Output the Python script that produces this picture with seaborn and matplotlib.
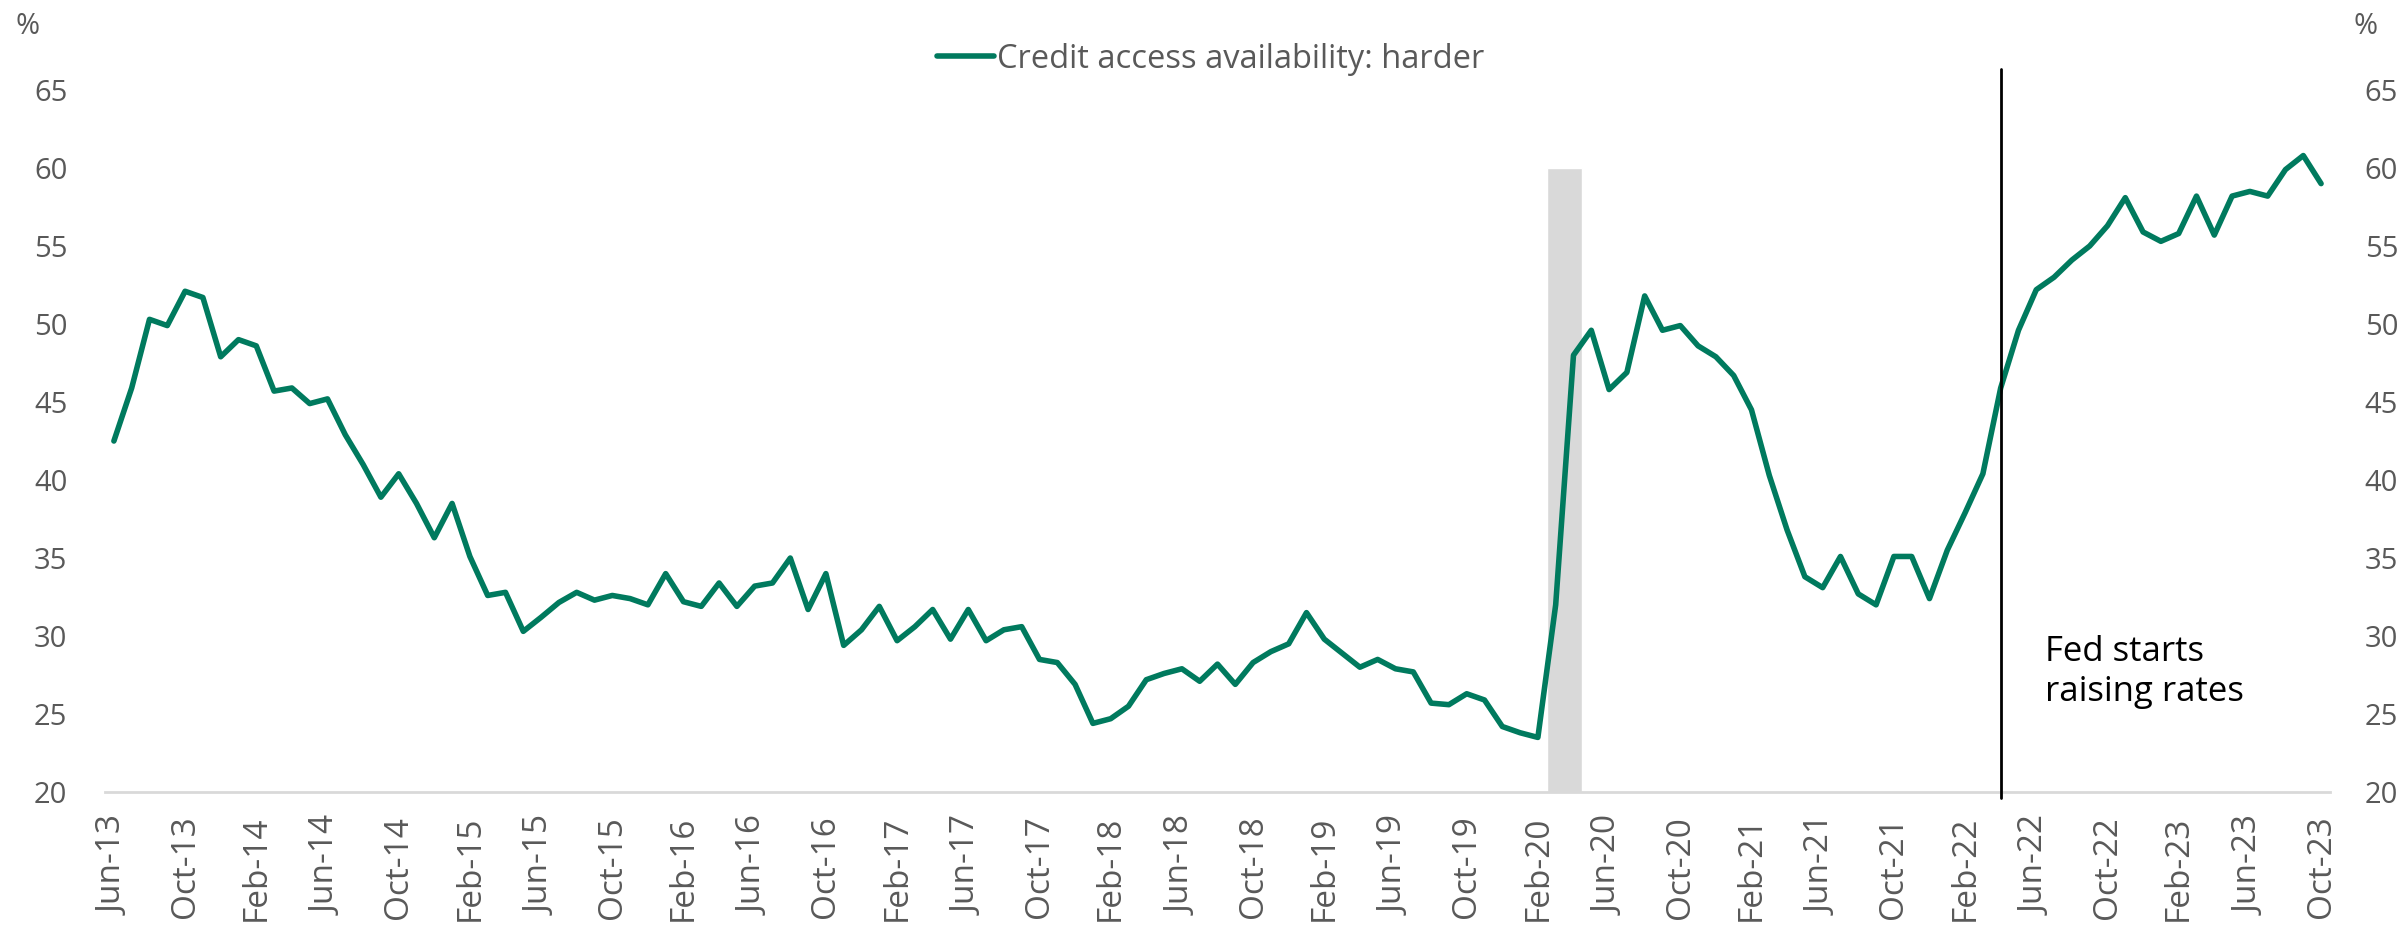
import pandas as pd
import matplotlib.pyplot as plt
import seaborn as sns

sns.set_theme(style='white')
plt.rcParams['font.family'] = ['Open Sans', 'DejaVu Sans']

# Monthly series, Jun-13 .. Oct-23
months = pd.date_range('2013-06-01', '2023-10-01', freq='MS')
credit_harder = [
    42.5, 45.9, 50.3, 49.9, 52.1, 51.7, 47.9,                          # 2013 Jun-Dec
    49.0, 48.6, 45.7, 45.9, 44.9, 45.2, 42.9, 41.0, 38.9, 40.4, 38.5, 36.3,  # 2014
    38.5, 35.1, 32.6, 32.8, 30.3, 31.2, 32.15, 32.8, 32.3, 32.6, 32.4, 32.0,  # 2015
    34.0, 32.2, 31.9, 33.4, 31.9, 33.2, 33.4, 35.0, 31.7, 34.0, 29.4, 30.4,  # 2016
    31.9, 29.7, 30.6, 31.7, 29.8, 31.7, 29.7, 30.4, 30.6, 28.5, 28.3, 26.9,  # 2017
    24.4, 24.7, 25.5, 27.2, 27.6, 27.9, 27.1, 28.2, 26.9, 28.3, 29.0, 29.5,  # 2018
    31.5, 29.8, 28.9, 28.0, 28.5, 27.9, 27.7, 25.7, 25.6, 26.3, 25.9, 24.2,  # 2019
    23.8, 23.5, 32.0, 48.0, 49.6, 45.8, 46.9, 51.8, 49.6, 49.9, 48.6, 47.9,  # 2020
    46.7, 44.5, 40.3, 36.8, 33.8, 33.1, 35.1, 32.7, 32.0, 35.1, 35.1, 32.4,  # 2021
    35.5, 37.9, 40.4, 45.9, 49.6, 52.2, 53.0, 54.1, 55.0, 56.3, 58.1, 55.9,  # 2022
    55.3, 55.8, 58.2, 55.7, 58.2, 58.5, 58.2, 59.9, 60.8, 59.0,              # 2023 Jan-Oct
]
recession_months = ['2020-03', '2020-04']
recession_height = 60
fed_hike_month = '2022-04'
y_ticks = [20, 25, 30, 35, 40, 45, 50, 55, 60, 65]

df = pd.DataFrame({'month': months, 'value': credit_harder})
df['pos'] = range(len(df))
df['label'] = df['month'].dt.strftime('%b-%y')

green = '#007A5E'
grey_txt = '#595959'

fig = plt.figure(figsize=(24.08, 9.27), dpi=100)
ax = fig.add_axes([0.0436, 0.1456, 0.924, 0.7573])

# shaded recession block
rec_pos = df.loc[df['month'].dt.strftime('%Y-%m').isin(recession_months), 'pos']
ax.bar(rec_pos.mean(), recession_height - y_ticks[0], width=len(rec_pos),
       bottom=y_ticks[0], color='#D9D9D9', zorder=1)

sns.lineplot(data=df, x='pos', y='value', color=green, linewidth=4,
             ax=ax, zorder=3, label='Credit access availability: harder')

# Fed line + note
fed_pos = df.loc[df['month'].dt.strftime('%Y-%m') == fed_hike_month, 'pos'].iloc[0]
ax.axvline(fed_pos, ymin=-0.008, ymax=1.03, color='black', lw=2, clip_on=False, zorder=4)
ax.text(fed_pos + 2.5, 27.7, 'Fed starts\nraising rates', fontsize=25, color='black',
        ha='left', va='center', linespacing=1.25)

ax.set_xlim(-0.5, len(df) - 0.5)
ax.set_ylim(20, 65)
ax.set_yticks(y_ticks)
ax.set_xticks(df['pos'][::4])
ax.set_xticklabels(df['label'][::4], rotation=90)
ax.set_xlabel('')
ax.set_ylabel('')
ax.tick_params(axis='x', length=0, pad=17, labelsize=24, labelcolor=grey_txt)
ax.tick_params(axis='y', length=0, pad=27, labelsize=21, labelcolor=grey_txt)
for s in ['top', 'left', 'right']:
    ax.spines[s].set_visible(False)
ax.spines['bottom'].set_color('#D9D9D9')
ax.spines['bottom'].set_linewidth(2)

ax2 = ax.twinx()
ax2.set_ylim(20, 65)
ax2.set_yticks(y_ticks)
ax2.tick_params(axis='y', length=0, pad=25, labelsize=21, labelcolor=grey_txt)
for s in ax2.spines.values():
    s.set_visible(False)

leg = ax.legend(loc='center', bbox_to_anchor=(0.5027, 0.936), bbox_transform=fig.transFigure,
                frameon=False, fontsize=23.5, handlelength=1.75, handletextpad=0.08)
for t in leg.get_texts():
    t.set_color(grey_txt)

fig.text(28 / 2408, 1 - 27 / 927, '%', fontsize=21, color=grey_txt, ha='center', va='center')
fig.text(2366 / 2408, 1 - 27 / 927, '%', fontsize=21, color=grey_txt, ha='center', va='center')

fig.savefig('out.png', dpi=100)
